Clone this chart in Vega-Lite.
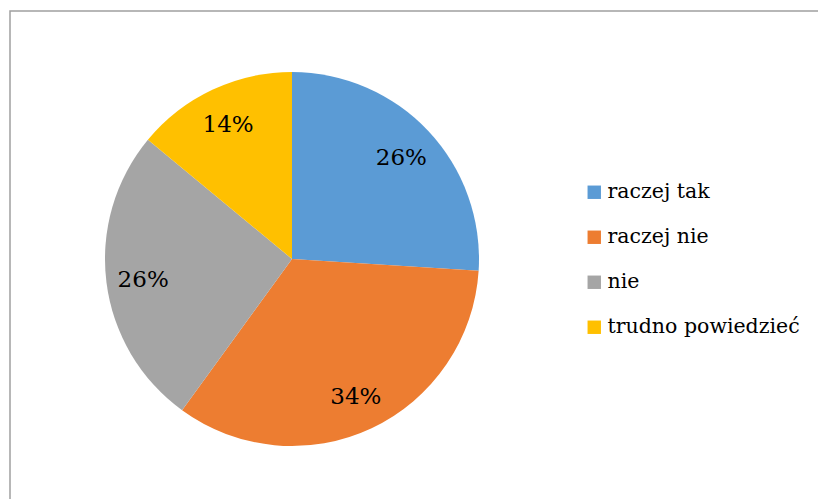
{
  "$schema": "https://vega.github.io/schema/vega-lite/v6.json",
  "width": 830,
  "height": 500,
  "autosize": {"type": "none"},
  "padding": {"left": 10, "top": 11, "right": 0, "bottom": 0},
  "background": "white",
  "view": {"stroke": "#a0a0a0", "strokeWidth": 1.5},
  "config": {
    "view": {"stroke": "#a0a0a0", "strokeWidth": 1.5},
    "font": "DejaVu Serif"
  },
  "data": {
    "values": [
      {"odpowiedz": "raczej tak", "procent": 26, "etykieta": "26%", "kolejnosc": 1},
      {"odpowiedz": "raczej nie", "procent": 34, "etykieta": "34%", "kolejnosc": 2},
      {"odpowiedz": "nie", "procent": 26, "etykieta": "26%", "kolejnosc": 3},
      {"odpowiedz": "trudno powiedzieć", "procent": 14, "etykieta": "14%", "kolejnosc": 4}
    ]
  },
  "encoding": {
    "theta": {"field": "procent", "type": "quantitative", "stack": true},
    "order": {"field": "kolejnosc", "type": "quantitative"}
  },
  "layer": [
    {
      "mark": {"type": "arc", "radius": 187, "x": 282, "y": 248},
      "encoding": {
        "color": {
          "field": "odpowiedz",
          "type": "nominal",
          "sort": ["raczej tak", "raczej nie", "nie", "trudno powiedzieć"],
          "scale": {
            "domain": ["raczej tak", "raczej nie", "nie", "trudno powiedzieć"],
            "range": ["#5B9BD5", "#ED7D31", "#A5A5A5", "#FFC000"]
          },
          "legend": {
            "orient": "none",
            "legendX": 574,
            "legendY": 171,
            "title": null,
            "symbolType": "square",
            "symbolSize": 180,
            "symbolStrokeWidth": 0,
            "labelFont": "DejaVu Serif",
            "labelFontSize": 20.5,
            "labelColor": "#000000",
            "labelLimit": 400,
            "labelOffset": 3,
            "rowPadding": 24
          }
        }
      }
    },
    {
      "mark": {"type": "text", "radius": 150, "x": 282, "y": 250, "fontSize": 23, "font": "DejaVu Serif", "color": "#000000"},
      "encoding": {
        "text": {"field": "etykieta", "type": "nominal"},
        "detail": {"field": "odpowiedz", "type": "nominal"}
      }
    }
  ]
}
